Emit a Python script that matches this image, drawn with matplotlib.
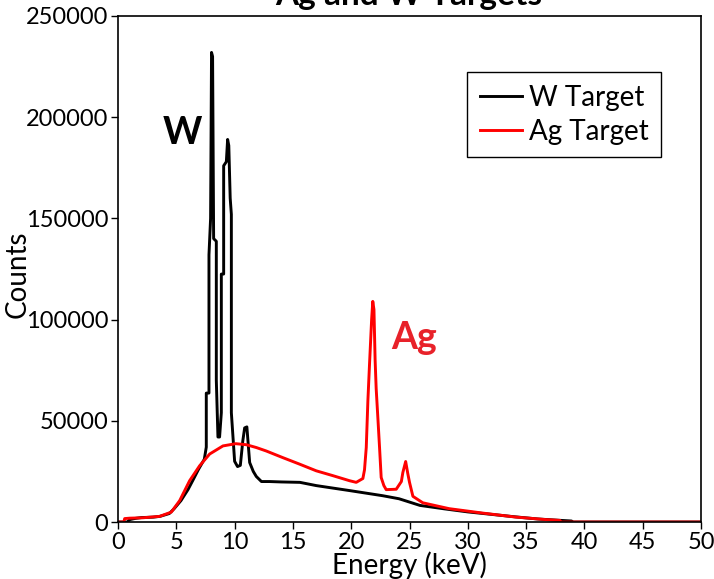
import matplotlib
matplotlib.use("Agg")
import matplotlib.pyplot as plt

plt.rcParams['font.family'] = ['Lato', 'DejaVu Sans']

# W target spectrum (energy keV, counts)
w_energy = [0, 0.8, 1.0, 1.5, 2.0, 3.0, 3.6, 4.0, 4.4, 4.8, 5.4, 6.0, 6.4, 6.9, 7.4,
            7.57, 7.57, 7.80, 7.80, 7.94, 8.02, 8.11, 8.2, 8.43, 8.43, 8.57, 8.71,
            8.86, 8.86, 9.06, 9.06, 9.29, 9.40, 9.50, 9.62, 9.72, 9.72, 10.0, 10.25,
            10.49, 10.7, 10.86, 11.05, 11.29, 11.6, 11.86, 12.3, 13.0, 14.0, 15.6,
            17.0, 19.9, 22.7, 24.1, 25.9, 28.0, 30.0, 32.0, 34.0, 36.0, 38.0, 38.9,
            39.0, 50.0]
w_counts = [0, 0, 1200, 1800, 2200, 2400, 2800, 3500, 4200, 6500, 10600, 16000,
            20400, 26000, 31000, 37000, 63700, 63700, 132000, 150000, 232000, 230000,
            140000, 138700, 70000, 42000, 42000, 54000, 122500, 122500, 176000, 178000,
            189000, 186000, 160000, 152000, 54000, 30000, 27400, 28000, 40000, 46500,
            47000, 29400, 25000, 22500, 20000, 20000, 19800, 19600, 18000, 15500, 13000,
            11500, 8200, 6500, 5000, 3800, 2600, 1500, 800, 500, 0, 0]

# Ag target spectrum (energy keV, counts)
ag_energy = [0, 0.5, 0.57, 1.0, 2.14, 3.57, 4.57, 5.29, 6.14, 7.0, 7.86, 9.0, 10.1,
             11.0, 11.86, 12.71, 14.14, 15.57, 17.0, 18.43, 19.86, 20.43, 21.0, 21.14,
             21.29, 21.43, 21.57, 21.75, 21.85, 21.95, 22.05, 22.14, 22.30, 22.43,
             22.57, 22.8, 23.0, 23.86, 24.3, 24.43, 24.67, 24.85, 25.0, 25.29, 26.14,
             28.4, 31.3, 34.1, 36.7, 37.9, 38.0, 50.0]
ag_counts = [0, 0, 1700, 1900, 2100, 2800, 4900, 10600, 20400, 27800, 33600, 37600,
             38700, 38200, 36800, 35100, 31800, 28600, 25300, 22900, 20400, 19600,
             21500, 25800, 36800, 60000, 78000, 100000, 109000, 105000, 80000, 66000,
             50000, 36800, 22000, 18000, 16000, 16200, 20000, 24500, 29900, 24000,
             19600, 12700, 9500, 6600, 4400, 2450, 1200, 800, 0, 0]

fig = plt.figure(figsize=(7.14, 5.79), dpi=100)
ax = fig.add_axes([0.1653, 0.0984, 0.8165, 0.8740])

ax.plot(w_energy, w_counts, color='black', lw=2.1, label='W Target')
ax.plot(ag_energy, ag_counts, color='#ff0000', lw=2.1, label='Ag Target')

ax.set_xlim(0, 50)
ax.set_ylim(0, 250000)
ax.set_xticks(range(0, 51, 5))
ax.set_yticks(range(0, 250001, 50000))
ax.tick_params(labelsize=17, length=5, width=1, pad=2)
for s in ax.spines.values():
    s.set_linewidth(1.2)

ax.set_xlabel('Energy (keV)', fontsize=20)
ax.xaxis.label.set_va('center')
ax.xaxis.set_label_coords(0.5, -0.085)
ax.set_ylabel('Counts', fontsize=20)
ax.yaxis.label.set_va('center')
ax.yaxis.set_label_coords(-0.172, 0.489)

ax.text(5.55, 192000, 'W', fontsize=27, fontweight='bold', color='black',
        ha='center', va='center')
ax.text(25.4, 91000, 'Ag', fontsize=27, fontweight='bold', color='#e8222a',
        ha='center', va='center')

leg = ax.legend(loc='upper right', bbox_to_anchor=(0.931, 0.889), borderaxespad=0,
                fontsize=20, handlelength=1.5, handletextpad=0.25, labelspacing=0.3,
                borderpad=0.45, fancybox=False, framealpha=1, edgecolor='black')
leg.get_frame().set_linewidth(1.0)

fig.text(0.573, 0.9914, 'Ag and W Targets', fontsize=24, fontweight='bold',
         ha='center', va='baseline')

fig.savefig('out.png', dpi=100)
